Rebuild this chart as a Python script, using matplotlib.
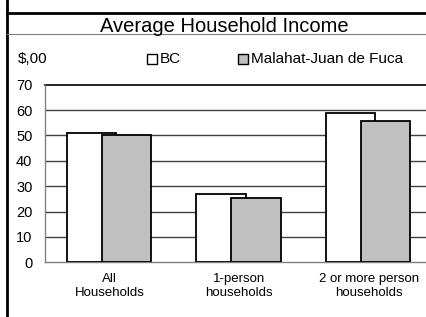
import matplotlib
matplotlib.use("Agg")
import matplotlib.pyplot as plt
import numpy as np
from matplotlib.lines import Line2D
from matplotlib.patches import Rectangle

plt.rcParams["font.family"] = ["Liberation Sans", "DejaVu Sans"]

categories = ["All\nHouseholds", "1-person\nhouseholds", "2 or more person\nhouseholds"]
series_names = ["BC", "Malahat-Juan de Fuca"]
bc_values = [50.8, 26.9, 58.8]
malahat_values = [50.3, 25.3, 55.6]
y_ticks = [0, 10, 20, 30, 40, 50, 60, 70]

W, H = 427, 317


def fx(px):
    return px / W


def fy(py):
    return 1 - py / H


fig = plt.figure(figsize=(W / 100, H / 100), dpi=100)
fig.patch.set_facecolor("white")

ax = fig.add_axes([fx(45), fy(262.3), fx(433.5) - fx(45), fy(84.7) - fy(262.3)])

x = np.arange(len(categories))
width = 0.382
ax.bar(x - 0.141, bc_values, width, color="white", edgecolor="black", linewidth=1.3, zorder=3)
ax.bar(x + 0.128, malahat_values, width, color="#C0C0C0", edgecolor="black", linewidth=1.3, zorder=4)

ax.set_xlim(-0.5, len(categories) - 0.5)
ax.set_ylim(0, 70)
ax.set_yticks(y_ticks)
ax.set_yticklabels([str(t) for t in y_ticks], fontsize=10.5)
ax.set_xticks(x)
ax.set_xticklabels(categories, fontsize=9.5)
ax.tick_params(axis="both", length=0)
ax.tick_params(axis="y", pad=9)
ax.tick_params(axis="x", pad=8)

for t in y_ticks[1:-1]:
    ax.axhline(t, color="#404040", linewidth=1.0, zorder=1)

for side in ["top", "right"]:
    ax.spines[side].set_visible(False)
ax.axhline(70, color="black", linewidth=1.2, zorder=2, clip_on=False)
ax.spines["left"].set_color("#808080")
ax.spines["bottom"].set_color("#808080")
ax.spines["left"].set_linewidth(1.0)
ax.spines["bottom"].set_linewidth(1.0)

# frame lines around the title block
fig.add_artist(Line2D([fx(7), fx(7)], [0, 1], color="black", linewidth=2.0))
fig.add_artist(Line2D([fx(7), 1], [fy(12.5), fy(12.5)], color="black", linewidth=2.0))
fig.add_artist(Line2D([fx(7), 1], [fy(34.3), fy(34.3)], color="#808080", linewidth=0.8))

fig.text(fx(224), fy(32), "Average Household Income", ha="center", va="baseline", fontsize=14.5)
fig.text(fx(18), fy(59), "$,00", ha="left", va="center", fontsize=11)

# legend
legend_items = [(147, series_names[0], "white"), (238, series_names[1], "#C0C0C0")]
for px, label, color in legend_items:
    fig.add_artist(Rectangle((fx(px), fy(64)), fx(10), fy(54) - fy(64),
                             transform=fig.transFigure, facecolor=color,
                             edgecolor="black", linewidth=1.0))
    fig.text(fx(px + 13), fy(59), label, ha="left", va="center", fontsize=11)

fig.savefig("out.png", dpi=100)
